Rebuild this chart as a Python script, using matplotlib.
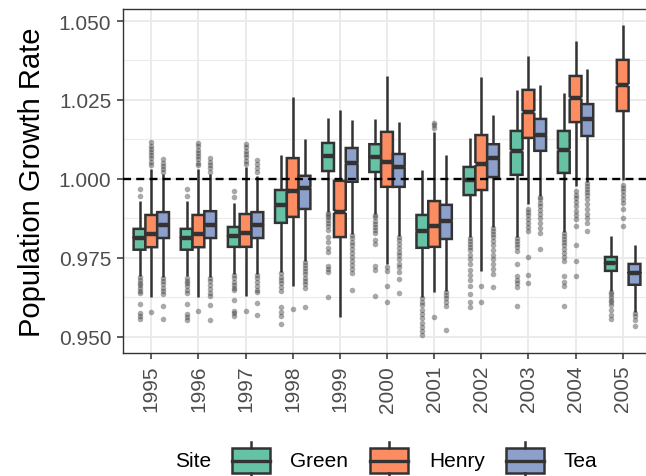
import matplotlib
matplotlib.use("Agg")
import matplotlib.pyplot as plt
from matplotlib.patches import Rectangle
from matplotlib.lines import Line2D

plt.rcParams['font.family'] = ['Liberation Sans', 'DejaVu Sans']

years = [1995, 1996, 1997, 1998, 1999, 2000, 2001, 2002, 2003, 2004, 2005]
sites = ["Green", "Henry", "Tea"]
site_colors = ["#66C2A5", "#FC8D62", "#8DA0CB"]

green_q1 = [0.9776, 0.9776, 0.9785, 0.9861, 1.0025, 1.0022, 0.9782, 0.9949, 1.0013, 1.0019, 0.9709]
green_med = [0.9814, 0.9814, 0.9820, 0.9918, 1.0073, 1.0070, 0.9835, 0.9997, 1.0089, 1.0092, 0.9734]
green_q3 = [0.9842, 0.9842, 0.9848, 0.9965, 1.0114, 1.0110, 0.9886, 1.0038, 1.0152, 1.0152, 0.9753]
green_lo = [0.9694, 0.9694, 0.9700, 0.9706, 0.9896, 0.9889, 0.9627, 0.9816, 0.9816, 0.9832, 0.9646]
green_hi = [0.9931, 0.9931, 0.9924, 1.0076, 1.0193, 1.0190, 1.0028, 1.0130, 1.0282, 1.0272, 0.9820]
green_out = [
    [0.9968, 0.9947, 0.9690, 0.9680, 0.9672, 0.9665, 0.9655, 0.9645, 0.9638, 0.9605, 0.9575, 0.9565, 0.9556],
    [0.9968, 0.9947, 0.9688, 0.9678, 0.9670, 0.9660, 0.9650, 0.9640, 0.9604, 0.9574, 0.9563, 0.9555],
    [0.9962, 0.9943, 0.9697, 0.9687, 0.9675, 0.9665, 0.9655, 0.9647, 0.9617, 0.9582, 0.9575, 0.9567],
    [0.9703, 0.9690, 0.9680, 0.9670, 0.9658, 0.9645, 0.9595, 0.9580, 0.9565, 0.9542],
    [0.9893, 0.9885, 0.9878, 0.9870, 0.9860, 0.9850, 0.9838, 0.9815, 0.9800, 0.9780, 0.9770, 0.9725, 0.9715, 0.9706, 0.9627],
    [0.9886, 0.9878, 0.9868, 0.9858, 0.9848, 0.9838, 0.9830, 0.9808, 0.9795, 0.9725, 0.9712, 0.9630],
    [0.9624, 0.9612, 0.9600, 0.9585, 0.9572, 0.9560, 0.9545, 0.9532, 0.9518, 0.9505],
    [0.9812, 0.9804, 0.9795, 0.9785, 0.9775, 0.9760, 0.9745, 0.9730, 0.9712, 0.9695, 0.9680, 0.9660, 0.9635, 0.9610, 0.9595],
    [0.9812, 0.9804, 0.9795, 0.9785, 0.9772, 0.9731, 0.9692, 0.9680, 0.9670, 0.9658, 0.9598],
    [0.9828, 0.9820, 0.9810, 0.9800, 0.9790, 0.9778, 0.9765, 0.9752, 0.9740, 0.9693, 0.9675, 0.9660, 0.9598],
    [0.9642, 0.9635, 0.9627, 0.9618, 0.9610, 0.9600, 0.9585, 0.9570, 0.9557],
]

henry_q1 = [0.9784, 0.9784, 0.9785, 0.9880, 0.9816, 0.9975, 0.9785, 0.9965, 1.0130, 1.0180, 1.0215]
henry_med = [0.9826, 0.9826, 0.9829, 0.9962, 0.9896, 1.0054, 0.9851, 1.0047, 1.0212, 1.0256, 1.0297]
henry_q3 = [0.9886, 0.9886, 0.9889, 1.0066, 0.9994, 1.0149, 0.9930, 1.0139, 1.0282, 1.0326, 1.0377]
henry_lo = [0.9627, 0.9627, 0.9630, 0.9661, 0.9563, 0.9731, 0.9642, 0.9709, 0.9921, 0.9978, 0.9997]
henry_hi = [1.0032, 1.0032, 1.0038, 1.0260, 1.0218, 1.0326, 1.0149, 1.0323, 1.0390, 1.0437, 1.0487]
henry_out = [
    [1.0117, 1.0105, 1.0095, 1.0085, 1.0075, 1.0065, 1.0055, 1.0045, 0.9579],
    [1.0115, 1.0103, 1.0093, 1.0082, 1.0072, 1.0062, 1.0052, 1.0043, 0.9582],
    [1.0110, 1.0100, 1.0090, 1.0080, 1.0068, 1.0058, 1.0048, 0.9582],
    [0.9589],
    [],
    [0.9720, 0.9710, 0.9660, 0.9610],
    [1.0177, 1.0170, 1.0162, 0.9563],
    [0.9660, 0.9610],
    [0.9905, 0.9895, 0.9885, 0.9872, 0.9860, 0.9848, 0.9835, 0.9753, 0.9696, 0.9670],
    [0.9962, 0.9950, 0.9940, 0.9928, 0.9915, 0.9900, 0.9885, 0.9872, 0.9850, 0.9790, 0.9740, 0.9693],
    [0.9980, 0.9972, 0.9962, 0.9950, 0.9938, 0.9925, 0.9905, 0.9875, 0.9850],
]

tea_q1 = [0.9813, 0.9813, 0.9813, 0.9905, 0.9991, 0.9975, 0.9810, 1.0006, 1.0089, 1.0136, 0.9665]
tea_med = [0.9854, 0.9855, 0.9855, 0.9972, 1.0050, 1.0038, 0.9867, 1.0066, 1.0139, 1.0190, 0.9703]
tea_q3 = [0.9895, 0.9898, 0.9895, 1.0010, 1.0098, 1.0079, 0.9918, 1.0110, 1.0190, 1.0237, 0.9731]
tea_lo = [0.9690, 0.9690, 0.9700, 0.9740, 0.9826, 0.9820, 0.9646, 0.9848, 0.9946, 0.9990, 0.9580]
tea_hi = [1.0016, 1.0016, 1.0010, 1.0127, 1.0187, 1.0180, 1.0076, 1.0203, 1.0297, 1.0348, 0.9791]
tea_out = [
    [1.0063, 1.0052, 1.0042, 1.0032, 1.0022, 0.9688, 0.9678, 0.9668, 0.9655, 0.9645, 0.9635, 0.9598, 0.9557],
    [1.0065, 1.0055, 1.0045, 1.0035, 1.0022, 0.9688, 0.9676, 0.9665, 0.9652, 0.9640, 0.9630, 0.9600, 0.9552],
    [1.0060, 1.0048, 1.0035, 1.0022, 0.9697, 0.9685, 0.9673, 0.9662, 0.9650, 0.9643, 0.9608, 0.9570],
    [0.9737, 0.9728, 0.9718, 0.9708, 0.9698, 0.9688, 0.9678, 0.9668, 0.9655, 0.9595],
    [0.9822, 0.9812, 0.9800, 0.9790, 0.9778, 0.9765, 0.9752, 0.9740, 0.9728, 0.9715, 0.9703, 0.9649],
    [0.9816, 0.9806, 0.9795, 0.9782, 0.9770, 0.9758, 0.9745, 0.9732, 0.9720, 0.9705, 0.9684, 0.9640],
    [0.9642, 0.9632, 0.9622, 0.9610, 0.9598, 0.9522],
    [0.9845, 0.9835, 0.9825, 0.9815, 0.9802, 0.9790, 0.9775, 0.9760, 0.9745, 0.9730, 0.9715, 0.9700, 0.9658],
    [0.9943, 0.9935, 0.9925, 0.9915, 0.9902, 0.9890, 0.9875, 0.9860, 0.9845, 0.9830, 0.9778],
    [0.9987, 0.9978, 0.9968, 0.9958, 0.9948, 0.9935, 0.9920, 0.9905, 0.9890, 0.9875, 0.9862, 0.9835],
    [0.9577, 0.9565, 0.9553, 0.9535],
]

y_ticks = [0.950, 0.975, 1.000, 1.025, 1.050]
y_tick_labels = ["0.950", "0.975", "1.000", "1.025", "1.050"]

site_data = [
    (green_q1, green_med, green_q3, green_lo, green_hi, green_out),
    (henry_q1, henry_med, henry_q3, henry_lo, henry_hi, henry_out),
    (tea_q1, tea_med, tea_q3, tea_lo, tea_hi, tea_out),
]

W, H = 646, 477
fig = plt.figure(figsize=(W / 100, H / 100), dpi=100)
ax = fig.add_axes([123 / W, 1 - 354 / H, 528 / W, 344 / H])

dark = "#333333"
offsets = [-0.25, 0.0, 0.25]
bw = 0.25

for s, (q1, med, q3, lo, hi, out) in enumerate(site_data):
    stats = []
    for i in range(len(years)):
        iqr = q3[i] - q1[i]
        stats.append(dict(med=med[i], q1=q1[i], q3=q3[i], whislo=lo[i], whishi=hi[i],
                          fliers=out[i], cilo=med[i] - 0.035 * iqr, cihi=med[i] + 0.035 * iqr))
    pos = [i + 1 + offsets[s] for i in range(len(years))]
    res = ax.bxp(stats, positions=pos, widths=bw, shownotches=True, showcaps=False,
                 patch_artist=True, manage_ticks=False,
                 boxprops=dict(facecolor=site_colors[s], edgecolor=dark, linewidth=1.8),
                 whiskerprops=dict(color=dark, linewidth=1.8, solid_capstyle='butt'),
                 medianprops=dict(color=dark, linewidth=3.2, solid_capstyle='butt'),
                 flierprops=dict(marker='o', markersize=4.0, markerfacecolor='#333333',
                                 markeredgecolor='none', alpha=0.42),
                 zorder=3)
    for p, ml in zip(pos, res['medians']):
        ml.set_xdata([p - bw * 0.38, p + bw * 0.38])

ax.axhline(1.0, color='black', linewidth=1.7, linestyle=(0, (3.4, 2.2)), zorder=5)

ax.set_xlim(0.4, 11.6)
ax.set_ylim(0.9449, 1.0538)
ax.set_xticks(range(1, len(years) + 1))
ax.set_xticklabels([str(y) for y in years], rotation=90)
ax.set_yticks(y_ticks)
ax.set_yticklabels(y_tick_labels)
ax.set_yticks([0.9625, 0.9875, 1.0125, 1.0375], minor=True)
ax.grid(True, which='major', color='#EBEBEB', linewidth=1.4, zorder=0)
ax.grid(True, which='minor', axis='y', color='#EBEBEB', linewidth=0.8, zorder=0)
ax.set_axisbelow(True)
ax.tick_params(axis='both', which='major', length=4, width=1.1, color=dark,
               labelsize=15, labelcolor='#4D4D4D', pad=4.5)
ax.tick_params(axis='both', which='minor', length=0)
for sp in ax.spines.values():
    sp.set_color(dark)
    sp.set_linewidth(1.0)
ax.set_ylabel("Population Growth Rate", fontsize=21, color='black', labelpad=9)

# legend
lax = fig.add_axes([0, 0, 1, 1], zorder=-1)
lax.set_xlim(0, W)
lax.set_ylim(H, 0)
lax.axis('off')
lax.text(175, 462, "Site", fontsize=15, va='center', ha='left', color='black')
key_x = [232, 370, 506]
text_x = [290, 429, 564]
for s in range(3):
    x0 = key_x[s]
    lax.add_line(Line2D([x0 + 19, x0 + 19], [443, 449], color=dark, linewidth=1.8))
    lax.add_line(Line2D([x0 + 19, x0 + 19], [474, 480], color=dark, linewidth=1.8))
    lax.add_patch(Rectangle((x0, 449), 38, 25, facecolor=site_colors[s], edgecolor=dark, linewidth=1.8))
    lax.add_line(Line2D([x0, x0 + 38], [461.5, 461.5], color=dark, linewidth=2.4))
    lax.text(text_x[s], 462, sites[s], fontsize=15, va='center', ha='left', color='black')

fig.savefig("out.png", dpi=100)
